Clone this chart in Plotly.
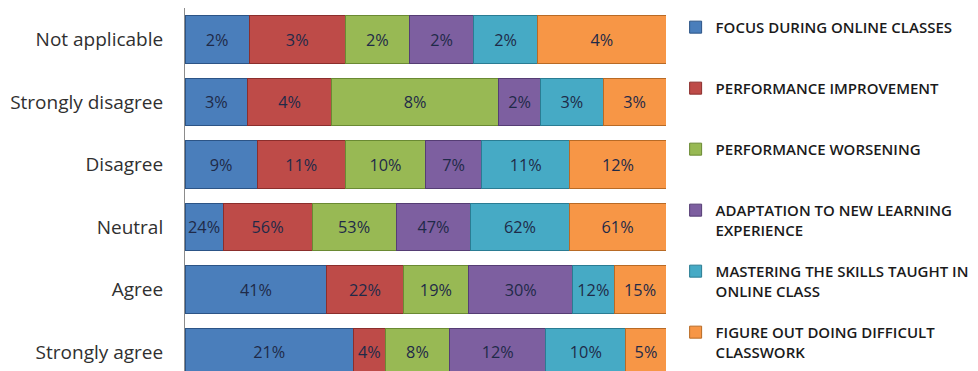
import plotly.graph_objects as go

# Response categories, bottom to top
categories = ["Strongly agree", "Agree", "Neutral", "Disagree",
              "Strongly disagree", "Not applicable"]

series_names = [
    "FOCUS DURING ONLINE CLASSES",
    "PERFORMANCE IMPROVEMENT",
    "PERFORMANCE WORSENING",
    "ADAPTATION TO NEW LEARNING<br>EXPERIENCE",
    "MASTERING THE SKILLS TAUGHT IN<br>ONLINE CLASS",
    "FIGURE OUT DOING DIFFICULT<br>CLASSWORK",
]

focus = [21, 41, 24, 9, 3, 2]
perf_improvement = [4, 22, 56, 11, 4, 3]
perf_worsening = [8, 19, 53, 10, 8, 2]
adaptation = [12, 30, 47, 7, 2, 2]
mastering = [10, 12, 62, 11, 3, 2]
difficult_work = [5, 15, 61, 12, 3, 4]

series_values = [focus, perf_improvement, perf_worsening,
                 adaptation, mastering, difficult_work]

fills = ["#4A7EBB", "#BE4B48", "#98B954", "#7D5FA0", "#46AAC5", "#F79646"]
edges = ["#2C5486", "#8B2E2C", "#6A8A33", "#553D74", "#2A7C93", "#B86A25"]

fig = go.Figure()
for name, vals, fc, ec in zip(series_names, series_values, fills, edges):
    # single-line names get a blank second line so every legend entry is equally tall
    label = name if "<br>" in name else name + "<br> "
    fig.add_trace(go.Bar(
        y=categories,
        x=vals,
        name=label,
        orientation="h",
        text=[f"{v}%" for v in vals],
        textposition="inside",
        insidetextanchor="middle",
        textangle=0,
        textfont=dict(family="Open Sans", size=17, color="#1F2A48"),
        marker=dict(color=fc, line=dict(color=ec, width=1)),
        width=0.76,
        legendgroup=name,
    ))

fig.update_layout(
    barmode="stack",
    barnorm="percent",
    width=978,
    height=371,
    margin=dict(l=185, r=312, t=8, b=0),
    paper_bgcolor="white",
    plot_bgcolor="white",
    uniformtext=dict(minsize=16, mode="show"),
    xaxis=dict(range=[0, 100], visible=False, showgrid=False),
    yaxis=dict(
        range=[-0.3, 5.5],
        showline=True,
        linecolor="#8C8C8C",
        linewidth=1,
        showgrid=False,
        ticks="",
        ticklabelstandoff=17,
        tickfont=dict(family="Open Sans", size=19, color="#303030"),
    ),
    legend=dict(
        x=1.02, xanchor="left", xref="paper",
        y=0.992, yanchor="top",
        traceorder="grouped",
        valign="top",
        tracegroupgap=19,
        itemwidth=30,
        maxheight=600,
        font=dict(family="Open Sans", size=15, color="#1A1A1A", weight=600),
        bgcolor="rgba(0,0,0,0)",
    ),
)

fig.write_html("out.html")
